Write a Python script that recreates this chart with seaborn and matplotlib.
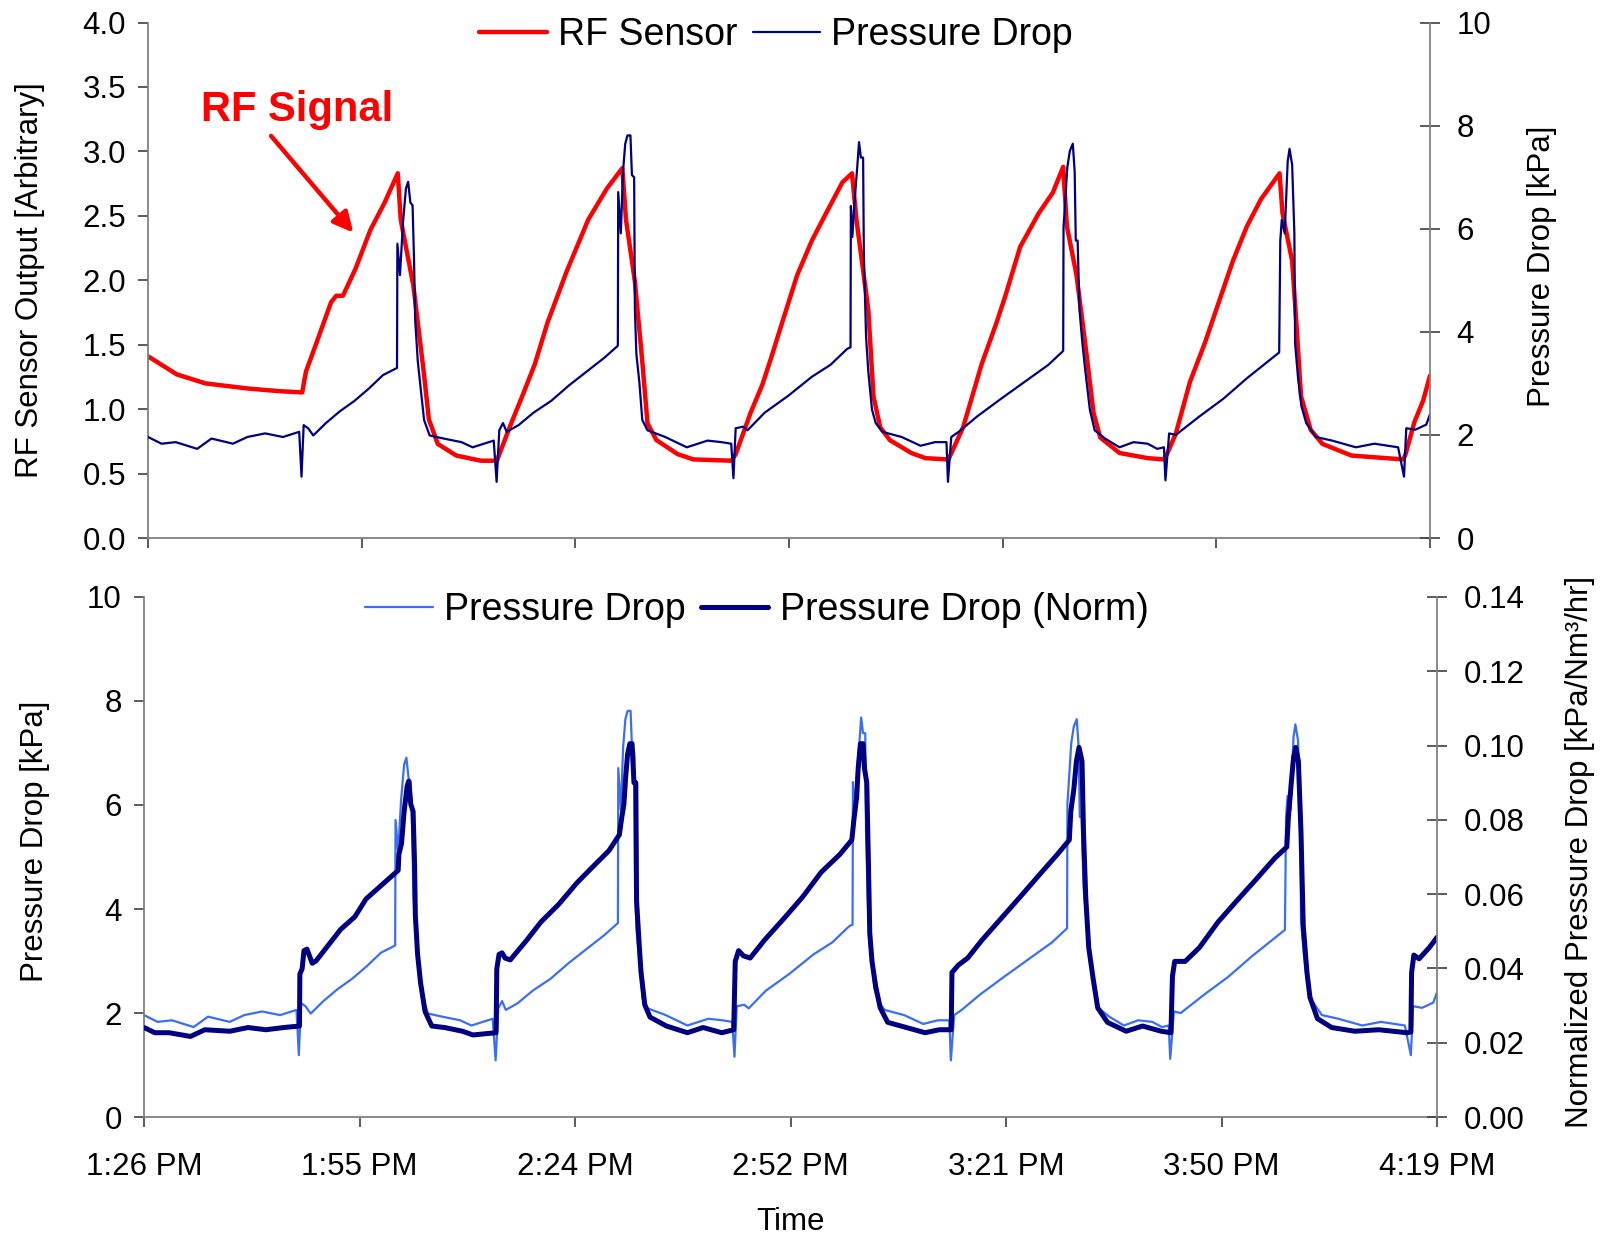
import matplotlib
matplotlib.use("Agg")
import matplotlib.pyplot as plt
import numpy as np
import pandas as pd
import seaborn as sns

# time axis: minutes after 1:26 PM
tick_minutes = [0, 28.83, 57.67, 86.5, 115.33, 144.17, 173]
tick_labels = ["1:26 PM", "1:55 PM", "2:24 PM", "2:52 PM", "3:21 PM", "3:50 PM", "4:19 PM"]

# RF sensor output [arbitrary]
rf_t = [0, 3.87, 7.73, 13.5, 17.6, 20.8, 21.3, 22.7, 24.7, 25.4, 26.3, 28.0, 30.0, 31.9, 33.7,
        34.1, 35.8, 37.2, 37.9, 39.1, 41.6, 44.9, 47.1, 47.4, 48.8, 50.7, 52.2, 53.9, 56.5,
        59.4, 61.9, 64.0, 64.5, 65.7, 66.7, 67.4, 68.6, 71.5, 73.6, 78.7, 79.3, 81.3, 82.9,
        84.1, 85.4, 87.6, 89.6, 91.5, 93.7, 95.0, 95.6, 97.2, 97.9, 98.8, 100.1, 103.0, 104.9,
        107.8, 108.1, 110.0, 112.5, 114.5, 115.7, 117.7, 120.2, 122.1, 123.5, 124.0, 125.3,
        126.6, 127.6, 128.5, 131.1, 134.9, 137.1, 137.5, 138.7, 140.6, 142.6, 144.5, 146.4,
        148.3, 150.2, 152.7, 153.1, 154.4, 155.0, 155.6, 156.9, 158.5, 162.4, 169.4, 169.7,
        170.9, 172.1, 173.0]
rf_val = [1.41, 1.27, 1.20, 1.16, 1.14, 1.13, 1.29, 1.51, 1.83, 1.88, 1.88, 2.09, 2.39, 2.60, 2.83,
          2.47, 1.96, 1.29, 0.92, 0.73, 0.64, 0.60, 0.60, 0.65, 0.86, 1.13, 1.35, 1.67, 2.07,
          2.47, 2.71, 2.87, 2.47, 1.99, 1.37, 0.89, 0.76, 0.65, 0.61, 0.60, 0.65, 0.97, 1.19,
          1.40, 1.64, 2.04, 2.31, 2.52, 2.76, 2.83, 2.47, 1.77, 1.10, 0.86, 0.76, 0.66, 0.62,
          0.61, 0.62, 0.86, 1.35, 1.67, 1.88, 2.26, 2.52, 2.68, 2.88, 2.42, 2.04,
          1.45, 0.97, 0.78, 0.66, 0.62, 0.61, 0.65, 0.81, 1.21, 1.51, 1.83, 2.15,
          2.42, 2.63, 2.83, 2.52, 2.15, 1.64, 1.10, 0.84, 0.73, 0.64, 0.61, 0.65,
          0.90, 1.07, 1.26]

# pressure drop [kPa]
dp_t = [0, 1.81, 3.74, 6.63, 8.56, 11.46, 13.4, 15.8, 18.2, 20.4, 20.71, 21.0, 21.6, 22.3, 24.0,
        25.9, 27.85, 29.8, 31.7, 33.6, 33.65, 34.0, 34.4, 34.8, 35.1, 35.4, 35.7, 35.9, 36.05,
        36.4, 36.8, 37.25, 38.0, 39.9, 42.3, 43.8, 46.65, 47.04, 47.4, 47.9, 48.4, 50.0, 52.0,
        54.4, 56.8, 59.2, 61.6, 63.4, 63.45, 63.8, 64.1, 64.4, 64.7, 65.1, 65.3, 65.6, 65.7,
        65.9, 66.3, 66.7, 67.4, 69.8, 72.7, 75.5, 77.4, 78.7, 79.0, 79.3, 80.3, 80.9, 83.2,
        86.4, 89.6, 92.1, 94.35, 94.8, 94.85, 95.05, 95.3, 95.7, 95.95, 96.2, 96.5, 96.6, 96.9,
        97.2, 97.7, 98.2, 99.1, 101.7, 104.25, 106.2, 107.75, 107.95, 108.4, 109.4, 111.9,
        115.1, 118.3, 121.5, 123.5, 123.55, 123.8, 124.05, 124.4, 124.8, 125.05, 125.2, 125.45,
        125.7, 126.1, 126.5, 127.1, 127.75, 129.15, 131.1, 133.0, 134.9, 136.2, 137.1, 137.3,
        137.8, 138.7, 141.9, 145.1, 148.3, 150.9, 152.65, 152.8, 153.0, 153.4, 153.8, 154.05,
        154.4, 154.7, 154.8, 155.2, 155.65, 156.3, 157.6, 159.8, 163.0, 165.5, 168.7, 169.5,
        169.8, 171.0, 172.5, 173.0]
dp_val = [1.96, 1.83, 1.86, 1.73, 1.93, 1.83, 1.96, 2.03, 1.96, 2.06, 1.19, 2.19, 2.13, 1.99, 2.23,
          2.46, 2.66, 2.90, 3.16, 3.30, 5.71, 5.10, 6.11, 6.78, 6.91, 6.51, 6.45, 5.37, 4.23,
          3.43, 2.90, 2.29, 1.99, 1.93, 1.86, 1.76, 1.89, 1.09, 2.09, 2.23, 2.06, 2.19, 2.43,
          2.66, 2.96, 3.23, 3.50, 3.73, 6.71, 5.91, 7.11, 7.65, 7.81, 7.81, 7.04, 7.00, 4.43,
          3.57, 3.03, 2.29, 2.09, 1.96, 1.76, 1.89, 1.86, 1.83, 1.16, 2.13, 2.16, 2.09, 2.43,
          2.76, 3.13, 3.36, 3.67, 3.70, 6.44, 5.84, 6.44, 7.18, 7.68, 7.38, 7.38, 5.50, 3.90,
          3.23, 2.49, 2.23, 2.06, 1.96, 1.79, 1.86, 1.86, 1.09, 1.96, 2.06, 2.36,
          2.70, 3.03, 3.36, 3.63, 6.04, 6.58, 7.18, 7.51, 7.65, 7.11, 5.77, 5.77,
          4.43, 3.77, 3.23, 2.49, 2.09, 1.93, 1.76, 1.86, 1.83, 1.73, 1.76, 1.12,
          2.03, 2.00, 2.36, 2.70, 3.10, 3.40, 3.60, 5.77, 6.17, 5.91, 7.31, 7.55,
          7.24, 5.91, 3.77, 3.10, 2.56, 2.23, 1.96, 1.89, 1.76, 1.83, 1.76, 1.19,
          2.13, 2.10, 2.20, 2.40]

# normalized pressure drop [kPa/Nm3/hr]
norm_t = [0, 1.44, 3.35, 6.22, 8.13, 11.5, 13.9, 16.3, 18.7, 20.8, 20.85, 21.15, 21.4, 21.8, 22.5,
          23.0, 24.4, 26.3, 28.2, 29.7, 32.1, 34.0, 34.1, 34.45, 34.8, 35.2, 35.4, 35.7, 36.0,
          36.2, 36.3, 36.6, 37.0, 37.6, 38.5, 40.2, 42.6, 44.0, 47.1, 47.2, 47.5, 47.9, 48.3,
          49.0, 51.2, 53.1, 55.5, 57.9, 60.3, 62.2, 63.6, 63.9, 64.2, 64.45, 64.7, 65.0, 65.3,
          65.55, 65.8, 65.9, 66.3, 66.5, 67.0, 67.7, 69.9, 72.7, 74.8, 77.3, 78.9, 79.1, 79.55,
          80.2, 81.1, 83.0, 85.55, 88.1, 90.6, 93.1, 94.7, 95.0, 95.35, 95.55, 95.85, 96.2,
          96.4, 96.7, 96.9, 97.1, 97.4, 97.9, 98.5, 99.5, 102.0, 104.5, 106.4, 108.0, 108.1,
          108.95, 109.6, 110.2, 112.1, 114.6, 117.2, 119.7, 122.2, 123.8, 124.0, 124.4, 124.75,
          125.1, 125.5, 125.7, 126.0, 126.4, 127.0, 127.6, 128.9, 131.4, 133.6, 136.1, 137.4,
          137.6, 137.9, 139.3, 141.2, 143.7, 146.2, 148.8, 151.3, 152.9, 153.1, 153.5, 153.8,
          154.1, 154.45, 154.8, 155.1, 155.6, 156.0, 157.0, 158.9, 162.0, 165.2, 169.0, 169.5,
          169.6, 169.9, 170.6, 172.0, 173.0]
norm_val = [0.0241, 0.0227, 0.0227, 0.0217, 0.0235, 0.0231, 0.0241, 0.0235, 0.0241, 0.0245, 0.0385,
            0.0399, 0.0448, 0.0452, 0.0414, 0.0420, 0.0456, 0.0505, 0.0539, 0.0587, 0.0630, 0.0664,
            0.0707, 0.0736, 0.0823, 0.0890, 0.0904, 0.0841, 0.0823, 0.0679, 0.0543, 0.0438, 0.0361,
            0.0284, 0.0245, 0.0241, 0.0231, 0.0221, 0.0227, 0.0399, 0.0438, 0.0442, 0.0428, 0.0423,
            0.0476, 0.0525, 0.0573, 0.0630, 0.0679, 0.0717, 0.0760, 0.0804, 0.0841, 0.0918, 0.0977,
            0.1005, 0.1005, 0.0900, 0.0900, 0.0582, 0.0448, 0.0389, 0.0302, 0.0269, 0.0245, 0.0227,
            0.0241, 0.0227, 0.0235, 0.0419, 0.0448, 0.0434, 0.0428, 0.0476, 0.0533, 0.0592, 0.0659,
            0.0707, 0.0746, 0.0804, 0.0861, 0.0938, 0.1005, 0.1005, 0.0938, 0.0900, 0.0707, 0.0496,
            0.0419, 0.0351, 0.0294, 0.0255, 0.0241, 0.0227, 0.0235, 0.0235, 0.0389, 0.0409, 0.0419,
            0.0428, 0.0476, 0.0533, 0.0592, 0.0650, 0.0707, 0.0746, 0.0823, 0.0881, 0.0958, 0.0995,
            0.0958, 0.0766, 0.0592, 0.0456, 0.0371, 0.0294, 0.0255, 0.0231, 0.0245, 0.0231, 0.0227,
            0.0379, 0.0419, 0.0419, 0.0456, 0.0525, 0.0582, 0.0640, 0.0697, 0.0727, 0.0804, 0.0900,
            0.0967, 0.0995, 0.0958, 0.0766, 0.0515, 0.0389, 0.0322, 0.0265, 0.0241, 0.0231, 0.0235,
            0.0227, 0.0229, 0.0389, 0.0436, 0.0426, 0.0457, 0.0484]

rf_df = pd.DataFrame({"t": rf_t, "v": rf_val})
dp_df = pd.DataFrame({"t": dp_t, "v": dp_val})
norm_df = pd.DataFrame({"t": norm_t, "v": norm_val})

sns.set_theme(style="white")
plt.rcParams["font.family"] = ["Liberation Sans", "DejaVu Sans"]
plt.rcParams["text.color"] = "black"
plt.rcParams["axes.labelcolor"] = "black"
plt.rcParams["xtick.color"] = "black"
plt.rcParams["ytick.color"] = "black"

RED = "#ff0000"
NAVY = "#000080"
LIGHT = "#3a6ef5"
AXC = "#808080"
TICK_FS = 22.5
LEG_FS = 27

fig = plt.figure(figsize=(16.04, 12.38), dpi=100)
ax_top = fig.add_axes([0.0923, 0.5654, 0.7992, 0.4164])
ax_top_r = ax_top.twinx()
ax_bot = fig.add_axes([0.0898, 0.0977, 0.8061, 0.4201])
ax_bot_r = ax_bot.twinx()


def style_pair(ax, axr):
    for a in (ax, axr):
        a.set_facecolor("none")
        for s in a.spines.values():
            s.set_visible(False)
        a.grid(False)
    ax.spines["left"].set_visible(True)
    ax.spines["bottom"].set_visible(True)
    axr.spines["right"].set_visible(True)
    for s in (ax.spines["left"], ax.spines["bottom"], axr.spines["right"]):
        s.set_color(AXC)
        s.set_linewidth(1.3)
    ax.tick_params(axis="y", direction="out", length=7, width=1.2, color="#404040",
                   labelsize=TICK_FS, labelcolor="black", pad=9, left=True)
    ax.tick_params(axis="x", direction="out", length=7, width=1.2, color="#404040",
                   labelsize=TICK_FS, labelcolor="black", bottom=True)
    axr.tick_params(axis="y", direction="inout", length=14, width=1.2, color="#404040",
                    labelsize=TICK_FS, labelcolor="black", pad=12, right=True)
    ax.set_xlim(0, 173)
    ax.set_xticks(tick_minutes)


# top panel: RF sensor and pressure drop
sns.lineplot(data=rf_df, x="t", y="v", ax=ax_top, color=RED, lw=3.2, sort=False,
             estimator=None, label="RF Sensor", legend=False)
sns.lineplot(data=dp_df, x="t", y="v", ax=ax_top_r, color=NAVY, lw=1.6, sort=False,
             estimator=None, label="Pressure Drop", legend=False)
style_pair(ax_top, ax_top_r)
ax_top.set_ylim(0, 4)
ax_top.set_yticks(np.arange(0, 4.01, 0.5))
ax_top.set_yticklabels([f"{v:.1f}" for v in np.arange(0, 4.01, 0.5)])
ax_top.set_xticklabels([])
ax_top_r.set_ylim(0, 10)
ax_top_r.set_yticks([0, 2, 4, 6, 8, 10])
ax_top.set_xlabel("")
ax_top.set_ylabel("RF Sensor Output [Arbitrary]", fontsize=TICK_FS)
ax_top.yaxis.set_label_coords(-0.080, 0.5)
ax_top_r.set_ylabel("Pressure Drop [kPa]", fontsize=TICK_FS)
ax_top_r.yaxis.set_label_coords(1.076, 0.527)

h1, l1 = ax_top.get_legend_handles_labels()
h2, l2 = ax_top_r.get_legend_handles_labels()
ax_top_r.legend(h1 + h2, l1 + l2, loc="center", bbox_to_anchor=(0.49, 0.976), ncol=2,
                frameon=False, fontsize=LEG_FS, handlelength=1.8, handletextpad=0.3,
                columnspacing=0.4, borderaxespad=0)

ax_top.annotate("", xy=(27.7, 2.37), xytext=(16.6, 3.12),
                arrowprops=dict(arrowstyle="-|>", color=RED, lw=3.2, mutation_scale=30,
                                shrinkA=0, shrinkB=0))
ax_top.text(20.1, 3.32, "RF Signal", color=RED, fontsize=30, fontweight="bold",
            ha="center", va="center")

# bottom panel: pressure drop and normalized pressure drop
sns.lineplot(data=dp_df, x="t", y="v", ax=ax_bot, color=LIGHT, lw=1.6, sort=False,
             estimator=None, label="Pressure Drop", legend=False)
sns.lineplot(data=norm_df, x="t", y="v", ax=ax_bot_r, color=NAVY, lw=3.6, sort=False,
             estimator=None, label="Pressure Drop (Norm)", legend=False)
style_pair(ax_bot, ax_bot_r)
ax_bot.set_ylim(0, 10)
ax_bot.set_yticks([0, 2, 4, 6, 8, 10])
ax_bot_r.set_ylim(0, 0.14)
ax_bot_r.set_yticks(np.arange(0, 0.141, 0.02))
ax_bot_r.set_yticklabels([f"{v:.2f}" for v in np.arange(0, 0.141, 0.02)])
ax_bot.set_xticklabels(tick_labels)
ax_bot.tick_params(axis="x", pad=18)
ax_bot.set_xlabel("Time", fontsize=TICK_FS)
ax_bot.xaxis.set_label_coords(0.5, -0.172)
ax_bot.set_ylabel("Pressure Drop [kPa]", fontsize=TICK_FS)
ax_bot.yaxis.set_label_coords(-0.073, 0.53)
ax_bot_r.set_ylabel("Normalized Pressure Drop [kPa/Nm³/hr]", fontsize=TICK_FS)
ax_bot_r.yaxis.set_label_coords(1.099, 0.51)

h1, l1 = ax_bot.get_legend_handles_labels()
h2, l2 = ax_bot_r.get_legend_handles_labels()
ax_bot_r.legend(h1 + h2, l1 + l2, loc="center", bbox_to_anchor=(0.474, 0.975), ncol=2,
                frameon=False, fontsize=LEG_FS, handlelength=1.8, handletextpad=0.3,
                columnspacing=0.4, borderaxespad=0)

fig.savefig("out.png", dpi=100, facecolor="white")
